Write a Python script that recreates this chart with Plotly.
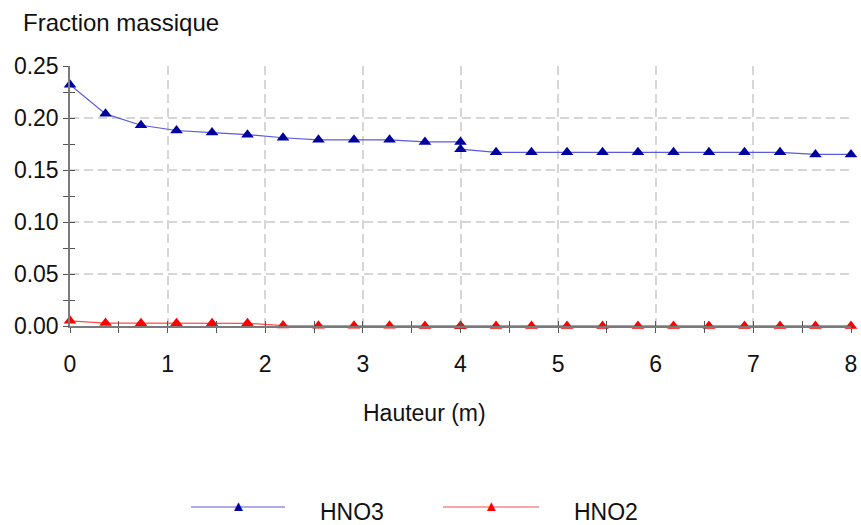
import plotly.graph_objects as go

# Data
hauteur = [0.0, 0.364, 0.727, 1.091, 1.455, 1.818, 2.182, 2.545, 2.909, 3.273, 3.636, 4.0,
           4.0, 4.364, 4.727, 5.091, 5.455, 5.818, 6.182, 6.545, 6.909, 7.273, 7.636, 8.0]
hno3 = [0.232, 0.204, 0.193, 0.188, 0.186, 0.184, 0.181, 0.179, 0.179, 0.179, 0.177, 0.177,
        0.170, 0.167, 0.167, 0.167, 0.167, 0.167, 0.167, 0.167, 0.167, 0.167, 0.165, 0.165]
hno2 = [0.0050, 0.0028, 0.0027, 0.0027, 0.0026, 0.0026, 0.0004, 0.0003, 0.0002, 0.0002, 0.0001, 0.0001,
        0.0001, 0.0001, 0.0001, 0.0001, 0.0001, 0.0001, 0.0001, 0.0001, 0.0001, 0.0001, 0.0001, 0.0001]
series_names = ["HNO3", "HNO2"]
x_ticks = [0, 1, 2, 3, 4, 5, 6, 7, 8]
y_ticks = [0.0, 0.05, 0.10, 0.15, 0.20, 0.25]

FONT = "Liberation Sans, Arial, sans-serif"
FS = 23
blue_line, blue_mk = "#5a5ae0", "#0000a0"
red_line, red_mk = "#ff4a4a", "#ff0000"
axis_col = "#7a7a7a"

fig = go.Figure()
fig.add_trace(go.Scatter(x=hauteur, y=hno3, mode="lines+markers", name=series_names[0],
                         line=dict(color=blue_line, width=1.2),
                         marker=dict(symbol="triangle-up", size=11, color=blue_mk),
                         cliponaxis=False, showlegend=False))
fig.add_trace(go.Scatter(x=hauteur, y=hno2, mode="lines+markers", name=series_names[1],
                         line=dict(color=red_line, width=1.2),
                         marker=dict(symbol="triangle-up", size=11, color=red_mk),
                         cliponaxis=False, showlegend=False))
# dummy trace to activate overlay axes (used for crossing tick marks)
fig.add_trace(go.Scatter(x=[None], y=[None], xaxis="x2", yaxis="y2", showlegend=False, hoverinfo="skip"))

common_grid = dict(showgrid=True, gridcolor="#d6d6d6", gridwidth=2, griddash="9px,5px")

fig.update_layout(
    width=861, height=525,
    margin=dict(l=70, r=10, t=66, b=199, autoexpand=False),
    paper_bgcolor="white", plot_bgcolor="white",
    font=dict(family=FONT, size=FS, color="#111111"),
    xaxis=dict(range=[0, 8], tickvals=x_ticks, ticktext=[str(v) for v in x_ticks],
               showline=True, linecolor=axis_col, linewidth=1.5, zeroline=False,
               ticks="outside", ticklen=5, tickcolor="#555555", tickwidth=1,
               minor=dict(dtick=0.5, ticks="outside", ticklen=5, tickcolor="#555555", showgrid=False),
               ticklabelstandoff=12, layer="above traces", **common_grid),
    yaxis=dict(range=[0, 0.25], tickvals=y_ticks, ticktext=["%.2f" % v for v in y_ticks],
               showline=True, linecolor=axis_col, linewidth=1.5, zeroline=False,
               ticks="outside", ticklen=5, tickcolor="#555555", tickwidth=1,
               minor=dict(dtick=0.025, ticks="outside", ticklen=5, tickcolor="#555555", showgrid=False),
               ticklabelstandoff=0, **common_grid),
    xaxis2=dict(range=[0, 8], overlaying="x", anchor="y2", showgrid=False, zeroline=False,
                showticklabels=False, ticks="inside", ticklen=5, tickcolor="#555555",
                tickvals=x_ticks, minor=dict(dtick=0.5, ticks="inside", ticklen=5, tickcolor="#555555"),
                side="bottom"),
    yaxis2=dict(range=[0, 0.25], overlaying="y", anchor="x2", showgrid=False, zeroline=False,
                showticklabels=False, ticks="inside", ticklen=5, tickcolor="#555555",
                tickvals=y_ticks, minor=dict(dtick=0.025, ticks="inside", ticklen=5, tickcolor="#555555"),
                side="left"),
)


# helpers: reference-pixel position -> paper coordinates (plot area 70..851 x 66..326)
def px_x(p):
    return (p - 70) / 781.0


def px_y(p):
    return (326 - p) / 260.0


# Titles
fig.add_annotation(text="Fraction massique", xref="paper", yref="paper", x=px_x(21), y=px_y(23),
                   xanchor="left", yanchor="middle", showarrow=False, font=dict(size=24))
fig.add_annotation(text="Hauteur (m)", xref="paper", yref="paper", x=px_x(424), y=px_y(413),
                   xanchor="center", yanchor="middle", showarrow=False, font=dict(size=FS))

# Custom legend (wide line samples like the reference)
legend_items = [(191, 285, 238, 318, blue_line, blue_mk), (443, 539, 491, 572, red_line, red_mk)]
for (x0, x1, xm, xt, lc, mc), name in zip(legend_items, series_names):
    fig.add_shape(type="line", xref="paper", yref="paper", x0=px_x(x0), x1=px_x(x1),
                  y0=px_y(507), y1=px_y(507), line=dict(color=lc, width=1.2))
    fig.add_annotation(text="▲", xref="paper", yref="paper", x=px_x(xm), y=px_y(505),
                       xanchor="center", yanchor="middle", showarrow=False,
                       font=dict(size=15, color=mc))
    fig.add_annotation(text=name, xref="paper", yref="paper", x=px_x(xt), y=px_y(512),
                       xanchor="left", yanchor="middle", showarrow=False, font=dict(size=FS))

# remove the default 8px page margin so the 861x525 figure fills the window exactly
fig.write_html("out.html", config={"displayModeBar": False},
               post_script="document.body.style.margin='0';document.body.style.overflow='hidden';")
